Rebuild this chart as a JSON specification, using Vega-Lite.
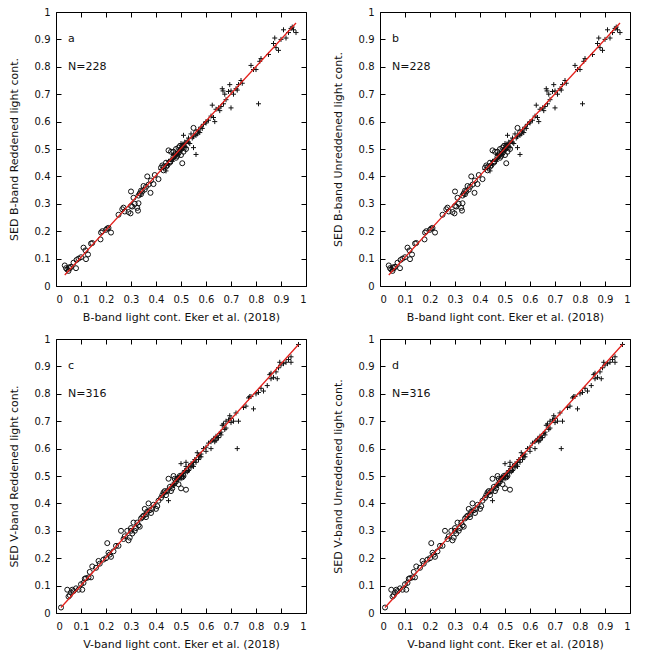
{
 "$schema": "https://vega.github.io/schema/vega-lite/v6.json",
 "padding": {"left": 8, "top": 7, "right": 5, "bottom": 5},
 "background": "white",
 "datasets": {
  "B": [
   {"x":0.035,"y":0.075,"m":"o"},{"x":0.04,"y":0.065,"m":"o"},{"x":0.045,"y":0.06,"m":"o"},{"x":0.05,"y":0.055,"m":"o"},{"x":0.052,"y":0.068,"m":"o"},{"x":0.055,"y":0.065,"m":"o"},{"x":0.06,"y":0.07,"m":"o"},{"x":0.07,"y":0.085,"m":"o"},{"x":0.08,"y":0.065,"m":"o"},{"x":0.082,"y":0.095,"m":"o"},{"x":0.09,"y":0.1,"m":"o"},{"x":0.1,"y":0.105,"m":"o"},{"x":0.11,"y":0.14,"m":"o"},{"x":0.118,"y":0.13,"m":"o"},{"x":0.12,"y":0.098,"m":"o"},{"x":0.128,"y":0.115,"m":"o"},{"x":0.14,"y":0.155,"m":"o"},{"x":0.145,"y":0.157,"m":"o"},{"x":0.178,"y":0.17,"m":"o"},{"x":0.18,"y":0.195,"m":"o"},{"x":0.185,"y":0.2,"m":"o"},{"x":0.2,"y":0.205,"m":"o"},{"x":0.205,"y":0.21,"m":"o"},{"x":0.21,"y":0.212,"m":"o"},{"x":0.22,"y":0.195,"m":"o"},{"x":0.25,"y":0.26,"m":"o"},{"x":0.265,"y":0.28,"m":"o"},{"x":0.27,"y":0.286,"m":"o"},{"x":0.275,"y":0.272,"m":"o"},{"x":0.29,"y":0.27,"m":"o"},{"x":0.3,"y":0.345,"m":"o"},{"x":0.298,"y":0.265,"m":"o"},{"x":0.3,"y":0.292,"m":"o"},{"x":0.305,"y":0.29,"m":"o"},{"x":0.31,"y":0.322,"m":"o"},{"x":0.315,"y":0.3,"m":"o"},{"x":0.325,"y":0.285,"m":"o"},{"x":0.328,"y":0.275,"m":"o"},{"x":0.33,"y":0.302,"m":"o"},{"x":0.335,"y":0.338,"m":"o"},{"x":0.34,"y":0.335,"m":"o"},{"x":0.345,"y":0.345,"m":"o"},{"x":0.35,"y":0.365,"m":"o"},{"x":0.355,"y":0.352,"m":"o"},{"x":0.365,"y":0.4,"m":"o"},{"x":0.37,"y":0.37,"m":"o"},{"x":0.378,"y":0.34,"m":"o"},{"x":0.38,"y":0.385,"m":"o"},{"x":0.39,"y":0.372,"m":"o"},{"x":0.395,"y":0.405,"m":"o"},{"x":0.41,"y":0.39,"m":"o"},{"x":0.42,"y":0.432,"m":"o"},{"x":0.425,"y":0.44,"m":"o"},{"x":0.43,"y":0.422,"m":"o"},{"x":0.44,"y":0.45,"m":"o"},{"x":0.445,"y":0.44,"m":"o"},{"x":0.45,"y":0.495,"m":"o"},{"x":0.46,"y":0.49,"m":"o"},{"x":0.458,"y":0.455,"m":"o"},{"x":0.47,"y":0.472,"m":"o"},{"x":0.475,"y":0.48,"m":"o"},{"x":0.48,"y":0.5,"m":"o"},{"x":0.49,"y":0.505,"m":"o"},{"x":0.495,"y":0.51,"m":"o"},{"x":0.505,"y":0.448,"m":"o"},{"x":0.51,"y":0.49,"m":"o"},{"x":0.52,"y":0.5,"m":"o"},{"x":0.55,"y":0.577,"m":"o"},{"x":0.56,"y":0.56,"m":"o"},{"x":0.432,"y":0.436,"m":"o"},{"x":0.48,"y":0.468,"m":"o"},{"x":0.5,"y":0.478,"m":"o"},{"x":0.33,"y":0.33,"m":"o"},{"x":0.34,"y":0.348,"m":"o"},{"x":0.36,"y":0.362,"m":"o"},{"x":0.47,"y":0.49,"m":"o"},{"x":0.485,"y":0.475,"m":"o"},{"x":0.44,"y":0.435,"m":"o"},{"x":0.455,"y":0.45,"m":"o"},{"x":0.49,"y":0.485,"m":"o"},{"x":0.5,"y":0.5,"m":"o"},
   {"x":0.42,"y":0.425,"m":"+"},{"x":0.43,"y":0.43,"m":"+"},{"x":0.44,"y":0.42,"m":"+"},{"x":0.45,"y":0.445,"m":"+"},{"x":0.46,"y":0.46,"m":"+"},{"x":0.465,"y":0.455,"m":"+"},{"x":0.47,"y":0.465,"m":"+"},{"x":0.475,"y":0.47,"m":"+"},{"x":0.48,"y":0.485,"m":"+"},{"x":0.485,"y":0.48,"m":"+"},{"x":0.49,"y":0.49,"m":"+"},{"x":0.495,"y":0.5,"m":"+"},{"x":0.5,"y":0.505,"m":"+"},{"x":0.502,"y":0.495,"m":"+"},{"x":0.505,"y":0.5,"m":"+"},{"x":0.51,"y":0.515,"m":"+"},{"x":0.51,"y":0.55,"m":"+"},{"x":0.515,"y":0.51,"m":"+"},{"x":0.52,"y":0.52,"m":"+"},{"x":0.525,"y":0.53,"m":"+"},{"x":0.53,"y":0.525,"m":"+"},{"x":0.535,"y":0.52,"m":"+"},{"x":0.54,"y":0.555,"m":"+"},{"x":0.545,"y":0.54,"m":"+"},{"x":0.55,"y":0.505,"m":"+"},{"x":0.56,"y":0.48,"m":"+"},{"x":0.56,"y":0.55,"m":"+"},{"x":0.57,"y":0.57,"m":"+"},{"x":0.575,"y":0.56,"m":"+"},{"x":0.58,"y":0.58,"m":"+"},{"x":0.585,"y":0.575,"m":"+"},{"x":0.6,"y":0.595,"m":"+"},{"x":0.61,"y":0.605,"m":"+"},{"x":0.62,"y":0.62,"m":"+"},{"x":0.625,"y":0.66,"m":"+"},{"x":0.63,"y":0.615,"m":"+"},{"x":0.635,"y":0.6,"m":"+"},{"x":0.64,"y":0.645,"m":"+"},{"x":0.65,"y":0.65,"m":"+"},{"x":0.655,"y":0.64,"m":"+"},{"x":0.66,"y":0.655,"m":"+"},{"x":0.665,"y":0.72,"m":"+"},{"x":0.668,"y":0.712,"m":"+"},{"x":0.67,"y":0.665,"m":"+"},{"x":0.675,"y":0.7,"m":"+"},{"x":0.68,"y":0.68,"m":"+"},{"x":0.69,"y":0.71,"m":"+"},{"x":0.695,"y":0.735,"m":"+"},{"x":0.7,"y":0.65,"m":"+"},{"x":0.7,"y":0.712,"m":"+"},{"x":0.71,"y":0.7,"m":"+"},{"x":0.72,"y":0.72,"m":"+"},{"x":0.725,"y":0.715,"m":"+"},{"x":0.73,"y":0.735,"m":"+"},{"x":0.74,"y":0.75,"m":"+"},{"x":0.745,"y":0.74,"m":"+"},{"x":0.78,"y":0.805,"m":"+"},{"x":0.79,"y":0.79,"m":"+"},{"x":0.8,"y":0.79,"m":"+"},{"x":0.81,"y":0.665,"m":"+"},{"x":0.815,"y":0.82,"m":"+"},{"x":0.82,"y":0.83,"m":"+"},{"x":0.85,"y":0.845,"m":"+"},{"x":0.87,"y":0.885,"m":"+"},{"x":0.875,"y":0.905,"m":"+"},{"x":0.88,"y":0.87,"m":"+"},{"x":0.89,"y":0.86,"m":"+"},{"x":0.9,"y":0.9,"m":"+"},{"x":0.91,"y":0.935,"m":"+"},{"x":0.92,"y":0.905,"m":"+"},{"x":0.93,"y":0.925,"m":"+"},{"x":0.94,"y":0.94,"m":"+"},{"x":0.95,"y":0.935,"m":"+"},{"x":0.96,"y":0.925,"m":"+"},{"x":0.945,"y":0.945,"m":"+"},{"x":0.6,"y":0.6,"m":"+"},{"x":0.57,"y":0.565,"m":"+"},{"x":0.52,"y":0.505,"m":"+"},{"x":0.505,"y":0.515,"m":"+"},{"x":0.495,"y":0.49,"m":"+"},{"x":0.5,"y":0.52,"m":"+"},{"x":0.515,"y":0.525,"m":"+"},{"x":0.53,"y":0.54,"m":"+"},{"x":0.55,"y":0.545,"m":"+"},{"x":0.565,"y":0.555,"m":"+"},{"x":0.59,"y":0.59,"m":"+"},{"x":0.44,"y":0.44,"m":"+"},{"x":0.45,"y":0.455,"m":"+"},{"x":0.47,"y":0.48,"m":"+"},{"x":0.48,"y":0.475,"m":"+"}
  ],
  "V": [
   {"x":0.02,"y":0.02,"m":"o"},{"x":0.045,"y":0.085,"m":"o"},{"x":0.05,"y":0.06,"m":"o"},{"x":0.055,"y":0.065,"m":"o"},{"x":0.06,"y":0.075,"m":"o"},{"x":0.065,"y":0.085,"m":"o"},{"x":0.07,"y":0.08,"m":"o"},{"x":0.08,"y":0.09,"m":"o"},{"x":0.09,"y":0.085,"m":"o"},{"x":0.1,"y":0.105,"m":"o"},{"x":0.105,"y":0.085,"m":"o"},{"x":0.11,"y":0.11,"m":"o"},{"x":0.115,"y":0.125,"m":"o"},{"x":0.12,"y":0.127,"m":"o"},{"x":0.13,"y":0.13,"m":"o"},{"x":0.135,"y":0.15,"m":"o"},{"x":0.14,"y":0.13,"m":"o"},{"x":0.145,"y":0.17,"m":"o"},{"x":0.17,"y":0.19,"m":"o"},{"x":0.175,"y":0.18,"m":"o"},{"x":0.19,"y":0.195,"m":"o"},{"x":0.2,"y":0.2,"m":"o"},{"x":0.205,"y":0.255,"m":"o"},{"x":0.21,"y":0.22,"m":"o"},{"x":0.215,"y":0.213,"m":"o"},{"x":0.22,"y":0.205,"m":"o"},{"x":0.24,"y":0.245,"m":"o"},{"x":0.25,"y":0.245,"m":"o"},{"x":0.26,"y":0.3,"m":"o"},{"x":0.27,"y":0.27,"m":"o"},{"x":0.285,"y":0.3,"m":"o"},{"x":0.29,"y":0.265,"m":"o"},{"x":0.295,"y":0.275,"m":"o"},{"x":0.3,"y":0.3,"m":"o"},{"x":0.31,"y":0.33,"m":"o"},{"x":0.32,"y":0.31,"m":"o"},{"x":0.33,"y":0.32,"m":"o"},{"x":0.335,"y":0.315,"m":"o"},{"x":0.34,"y":0.345,"m":"o"},{"x":0.35,"y":0.355,"m":"o"},{"x":0.355,"y":0.38,"m":"o"},{"x":0.36,"y":0.36,"m":"o"},{"x":0.37,"y":0.4,"m":"o"},{"x":0.375,"y":0.375,"m":"o"},{"x":0.38,"y":0.365,"m":"o"},{"x":0.39,"y":0.395,"m":"o"},{"x":0.4,"y":0.38,"m":"o"},{"x":0.405,"y":0.39,"m":"o"},{"x":0.42,"y":0.42,"m":"o"},{"x":0.43,"y":0.44,"m":"o"},{"x":0.44,"y":0.43,"m":"o"},{"x":0.445,"y":0.445,"m":"o"},{"x":0.45,"y":0.49,"m":"o"},{"x":0.46,"y":0.445,"m":"o"},{"x":0.47,"y":0.5,"m":"o"},{"x":0.48,"y":0.48,"m":"o"},{"x":0.49,"y":0.47,"m":"o"},{"x":0.5,"y":0.455,"m":"o"},{"x":0.51,"y":0.5,"m":"o"},{"x":0.52,"y":0.45,"m":"o"},{"x":0.525,"y":0.52,"m":"o"},{"x":0.3,"y":0.31,"m":"o"},{"x":0.305,"y":0.29,"m":"o"},{"x":0.315,"y":0.3,"m":"o"},{"x":0.325,"y":0.33,"m":"o"},{"x":0.345,"y":0.35,"m":"o"},{"x":0.365,"y":0.37,"m":"o"},{"x":0.385,"y":0.38,"m":"o"},{"x":0.41,"y":0.41,"m":"o"},{"x":0.425,"y":0.43,"m":"o"},{"x":0.435,"y":0.445,"m":"o"},{"x":0.455,"y":0.46,"m":"o"},{"x":0.465,"y":0.455,"m":"o"},{"x":0.475,"y":0.49,"m":"o"},{"x":0.485,"y":0.49,"m":"o"},{"x":0.495,"y":0.5,"m":"o"},{"x":0.505,"y":0.495,"m":"o"},{"x":0.16,"y":0.165,"m":"o"},{"x":0.23,"y":0.225,"m":"o"},{"x":0.275,"y":0.28,"m":"o"},{"x":0.36,"y":0.35,"m":"o"},
   {"x":0.43,"y":0.435,"m":"+"},{"x":0.44,"y":0.44,"m":"+"},{"x":0.45,"y":0.41,"m":"+"},{"x":0.46,"y":0.46,"m":"+"},{"x":0.465,"y":0.47,"m":"+"},{"x":0.47,"y":0.465,"m":"+"},{"x":0.48,"y":0.48,"m":"+"},{"x":0.485,"y":0.49,"m":"+"},{"x":0.49,"y":0.495,"m":"+"},{"x":0.495,"y":0.5,"m":"+"},{"x":0.5,"y":0.5,"m":"+"},{"x":0.5,"y":0.545,"m":"+"},{"x":0.505,"y":0.51,"m":"+"},{"x":0.51,"y":0.51,"m":"+"},{"x":0.515,"y":0.52,"m":"+"},{"x":0.52,"y":0.52,"m":"+"},{"x":0.52,"y":0.55,"m":"+"},{"x":0.525,"y":0.515,"m":"+"},{"x":0.53,"y":0.535,"m":"+"},{"x":0.54,"y":0.545,"m":"+"},{"x":0.545,"y":0.54,"m":"+"},{"x":0.55,"y":0.55,"m":"+"},{"x":0.555,"y":0.56,"m":"+"},{"x":0.56,"y":0.56,"m":"+"},{"x":0.565,"y":0.585,"m":"+"},{"x":0.57,"y":0.575,"m":"+"},{"x":0.575,"y":0.57,"m":"+"},{"x":0.58,"y":0.58,"m":"+"},{"x":0.59,"y":0.6,"m":"+"},{"x":0.6,"y":0.605,"m":"+"},{"x":0.61,"y":0.62,"m":"+"},{"x":0.62,"y":0.6,"m":"+"},{"x":0.625,"y":0.63,"m":"+"},{"x":0.63,"y":0.635,"m":"+"},{"x":0.635,"y":0.625,"m":"+"},{"x":0.64,"y":0.645,"m":"+"},{"x":0.645,"y":0.64,"m":"+"},{"x":0.65,"y":0.64,"m":"+"},{"x":0.655,"y":0.655,"m":"+"},{"x":0.66,"y":0.66,"m":"+"},{"x":0.665,"y":0.685,"m":"+"},{"x":0.67,"y":0.69,"m":"+"},{"x":0.675,"y":0.67,"m":"+"},{"x":0.68,"y":0.7,"m":"+"},{"x":0.69,"y":0.705,"m":"+"},{"x":0.695,"y":0.72,"m":"+"},{"x":0.7,"y":0.71,"m":"+"},{"x":0.71,"y":0.7,"m":"+"},{"x":0.72,"y":0.73,"m":"+"},{"x":0.725,"y":0.6,"m":"+"},{"x":0.73,"y":0.7,"m":"+"},{"x":0.75,"y":0.75,"m":"+"},{"x":0.76,"y":0.755,"m":"+"},{"x":0.77,"y":0.785,"m":"+"},{"x":0.775,"y":0.79,"m":"+"},{"x":0.78,"y":0.79,"m":"+"},{"x":0.79,"y":0.745,"m":"+"},{"x":0.8,"y":0.8,"m":"+"},{"x":0.81,"y":0.805,"m":"+"},{"x":0.82,"y":0.82,"m":"+"},{"x":0.83,"y":0.81,"m":"+"},{"x":0.845,"y":0.83,"m":"+"},{"x":0.855,"y":0.87,"m":"+"},{"x":0.86,"y":0.875,"m":"+"},{"x":0.86,"y":0.855,"m":"+"},{"x":0.87,"y":0.86,"m":"+"},{"x":0.88,"y":0.88,"m":"+"},{"x":0.885,"y":0.855,"m":"+"},{"x":0.89,"y":0.895,"m":"+"},{"x":0.895,"y":0.915,"m":"+"},{"x":0.9,"y":0.905,"m":"+"},{"x":0.91,"y":0.91,"m":"+"},{"x":0.92,"y":0.915,"m":"+"},{"x":0.93,"y":0.925,"m":"+"},{"x":0.94,"y":0.935,"m":"+"},{"x":0.94,"y":0.915,"m":"+"},{"x":0.97,"y":0.98,"m":"+"},{"x":0.5,"y":0.49,"m":"+"},{"x":0.51,"y":0.5,"m":"+"},{"x":0.53,"y":0.52,"m":"+"},{"x":0.54,"y":0.53,"m":"+"},{"x":0.56,"y":0.55,"m":"+"},{"x":0.58,"y":0.57,"m":"+"},{"x":0.6,"y":0.59,"m":"+"},{"x":0.62,"y":0.625,"m":"+"},{"x":0.64,"y":0.63,"m":"+"},{"x":0.66,"y":0.65,"m":"+"},{"x":0.68,"y":0.675,"m":"+"},{"x":0.7,"y":0.695,"m":"+"},{"x":0.52,"y":0.535,"m":"+"},{"x":0.55,"y":0.535,"m":"+"},{"x":0.57,"y":0.56,"m":"+"},{"x":0.475,"y":0.47,"m":"+"}
  ],
  "fitB": [{"x":0.035,"y":0.04},{"x":0.96,"y":0.96}],
  "fitV": [{"x":0.02,"y":0.02},{"x":0.97,"y":0.98}],
  "lab": [
   {"p":"a","x":0.048,"y":0.9,"t":"a"},{"p":"a","x":0.048,"y":0.8,"t":"N=228"},
   {"p":"b","x":0.048,"y":0.9,"t":"b"},{"p":"b","x":0.048,"y":0.8,"t":"N=228"},
   {"p":"c","x":0.048,"y":0.9,"t":"c"},{"p":"c","x":0.048,"y":0.8,"t":"N=316"},
   {"p":"d","x":0.048,"y":0.9,"t":"d"},{"p":"d","x":0.048,"y":0.8,"t":"N=316"}
  ]
 },
 "vconcat": [
  {"hconcat": [
   {"width":250,"height":274,
    "layer":[
     {"data":{"name":"B"},"mark":{"type":"point","size":25,"strokeWidth":1,"filled":false,"opacity":1,"color":"#111"},
      "encoding":{
       "x":{"field":"x","type":"quantitative","scale":{"domain":[0,1]},"axis":{"title":"B-band light cont. Eker et al. (2018)","format":"~g"}},
       "y":{"field":"y","type":"quantitative","scale":{"domain":[0,1]},"axis":{"title":"SED B-band Reddened light cont.","format":"~g"}},
       "shape":{"field":"m","type":"nominal","scale":{"domain":["o","+"],"range":["circle","M-1,0L1,0M0,-1L0,1"]},"legend":null}}},
     {"data":{"name":"fitB"},"mark":{"type":"line","color":"#e3201b","strokeWidth":1.3},
      "encoding":{
       "x":{"field":"x","type":"quantitative","axis":{"orient":"top","labels":false,"title":null}},
       "y":{"field":"y","type":"quantitative","axis":{"orient":"right","labels":false,"title":null}}}},
     {"data":{"name":"lab"},"transform":[{"filter":"datum.p=='a'"}],"mark":{"type":"text","align":"left","baseline":"middle","fontSize":11,"font":"DejaVu Sans","color":"#111"},
      "encoding":{"x":{"field":"x","type":"quantitative","axis":null},"y":{"field":"y","type":"quantitative","axis":null},"text":{"field":"t"}}}
    ],
    "resolve":{"axis":{"x":"independent","y":"independent"}}},
   {"width":250,"height":274,
    "layer":[
     {"data":{"name":"B"},"mark":{"type":"point","size":25,"strokeWidth":1,"filled":false,"opacity":1,"color":"#111"},
      "encoding":{
       "x":{"field":"x","type":"quantitative","scale":{"domain":[0,1]},"axis":{"title":"B-band light cont. Eker et al. (2018)","format":"~g"}},
       "y":{"field":"y","type":"quantitative","scale":{"domain":[0,1]},"axis":{"title":"SED B-band Unreddened light cont.","format":"~g"}},
       "shape":{"field":"m","type":"nominal","scale":{"domain":["o","+"],"range":["circle","M-1,0L1,0M0,-1L0,1"]},"legend":null}}},
     {"data":{"name":"fitB"},"mark":{"type":"line","color":"#e3201b","strokeWidth":1.3},
      "encoding":{
       "x":{"field":"x","type":"quantitative","axis":{"orient":"top","labels":false,"title":null}},
       "y":{"field":"y","type":"quantitative","axis":{"orient":"right","labels":false,"title":null}}}},
     {"data":{"name":"lab"},"transform":[{"filter":"datum.p=='b'"}],"mark":{"type":"text","align":"left","baseline":"middle","fontSize":11,"font":"DejaVu Sans","color":"#111"},
      "encoding":{"x":{"field":"x","type":"quantitative","axis":null},"y":{"field":"y","type":"quantitative","axis":null},"text":{"field":"t"}}}
    ],
    "resolve":{"axis":{"x":"independent","y":"independent"}}}
  ], "spacing": 25},
  {"hconcat": [
   {"width":250,"height":274,
    "layer":[
     {"data":{"name":"V"},"mark":{"type":"point","size":25,"strokeWidth":1,"filled":false,"opacity":1,"color":"#111"},
      "encoding":{
       "x":{"field":"x","type":"quantitative","scale":{"domain":[0,1]},"axis":{"title":"V-band light cont. Eker et al. (2018)","format":"~g"}},
       "y":{"field":"y","type":"quantitative","scale":{"domain":[0,1]},"axis":{"title":"SED V-band Reddened light cont.","format":"~g"}},
       "shape":{"field":"m","type":"nominal","scale":{"domain":["o","+"],"range":["circle","M-1,0L1,0M0,-1L0,1"]},"legend":null}}},
     {"data":{"name":"fitV"},"mark":{"type":"line","color":"#e3201b","strokeWidth":1.3},
      "encoding":{
       "x":{"field":"x","type":"quantitative","axis":{"orient":"top","labels":false,"title":null}},
       "y":{"field":"y","type":"quantitative","axis":{"orient":"right","labels":false,"title":null}}}},
     {"data":{"name":"lab"},"transform":[{"filter":"datum.p=='c'"}],"mark":{"type":"text","align":"left","baseline":"middle","fontSize":11,"font":"DejaVu Sans","color":"#111"},
      "encoding":{"x":{"field":"x","type":"quantitative","axis":null},"y":{"field":"y","type":"quantitative","axis":null},"text":{"field":"t"}}}
    ],
    "resolve":{"axis":{"x":"independent","y":"independent"}}},
   {"width":250,"height":274,
    "layer":[
     {"data":{"name":"V"},"mark":{"type":"point","size":25,"strokeWidth":1,"filled":false,"opacity":1,"color":"#111"},
      "encoding":{
       "x":{"field":"x","type":"quantitative","scale":{"domain":[0,1]},"axis":{"title":"V-band light cont. Eker et al. (2018)","format":"~g"}},
       "y":{"field":"y","type":"quantitative","scale":{"domain":[0,1]},"axis":{"title":"SED V-band Unreddened light cont.","format":"~g"}},
       "shape":{"field":"m","type":"nominal","scale":{"domain":["o","+"],"range":["circle","M-1,0L1,0M0,-1L0,1"]},"legend":null}}},
     {"data":{"name":"fitV"},"mark":{"type":"line","color":"#e3201b","strokeWidth":1.3},
      "encoding":{
       "x":{"field":"x","type":"quantitative","axis":{"orient":"top","labels":false,"title":null}},
       "y":{"field":"y","type":"quantitative","axis":{"orient":"right","labels":false,"title":null}}}},
     {"data":{"name":"lab"},"transform":[{"filter":"datum.p=='d'"}],"mark":{"type":"text","align":"left","baseline":"middle","fontSize":11,"font":"DejaVu Sans","color":"#111"},
      "encoding":{"x":{"field":"x","type":"quantitative","axis":null},"y":{"field":"y","type":"quantitative","axis":null},"text":{"field":"t"}}}
    ],
    "resolve":{"axis":{"x":"independent","y":"independent"}}}
  ], "spacing": 25}
 ],
 "spacing": 12,
 "config": {
  "view": {"stroke": null},
  "axis": {"grid": false, "tickCount": 10, "tickSize": -5, "tickColor": "#000", "domainColor": "#000",
           "labelFont": "DejaVu Sans", "labelFontSize": 10, "labelColor": "#111", "titleFont": "DejaVu Sans", "titleFontSize": 11,
           "titleFontWeight": "normal", "titleColor": "#111"},
  "axisX": {"labelPadding": 13, "titlePadding": 7},
  "axisY": {"labelPadding": 11, "titlePadding": 15}
 }
}
